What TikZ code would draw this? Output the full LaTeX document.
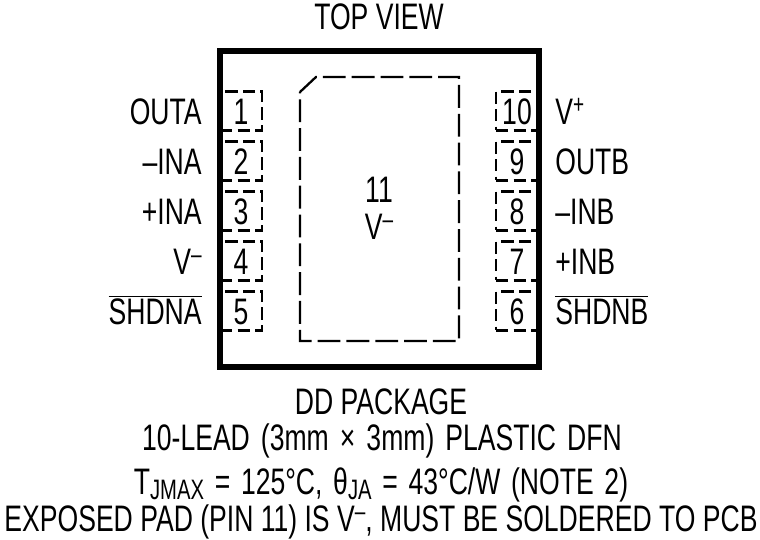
\documentclass[tikz,border=0pt]{standalone}
\usepackage{fontspec}
\setmainfont[FakeStretch=0.72]{Liberation Sans}
\newcommand{\subtxt}[1]{\raisebox{-2.8pt}{\fontsize{16}{16}\selectfont #1}}
\newcommand{\suptxt}[1]{\raisebox{6.5pt}{\fontsize{15}{15}\selectfont #1}}
\tikzset{
	lbl/.style={inner sep=0pt,font=\fontsize{21}{24}\selectfont},
	lblr/.style={lbl,anchor=base east},
	lbll/.style={lbl,anchor=base west},
	lblc/.style={lbl,anchor=base},
	pinbox/.style={draw,line width=1.3pt,dash pattern=on 7pt off 3pt,minimum width=0.84cm,minimum height=0.78cm,inner sep=0pt},
	pintxt/.style={lbl,anchor=base}
}
\begin{document}
\begin{tikzpicture}[x=0.02cm,y=0.02cm]
	\useasboundingbox (0,0) rectangle (760,540);
	\draw (379,510) node[lblc] (top) {TOP VIEW};

	\draw (241,429) node[pinbox] (pina) {};
	\draw (241,379) node[pinbox] (pinb) {};
	\draw (241,329) node[pinbox] (pinc) {};
	\draw (241,279) node[pinbox] (pind) {};
	\draw (241,229) node[pinbox] (pine) {};
	\draw (517,429) node[pinbox] (pinj) {};
	\draw (517,379) node[pinbox] (pini) {};
	\draw (517,329) node[pinbox] (pinh) {};
	\draw (517,279) node[pinbox] (ping) {};
	\draw (517,229) node[pinbox] (pinf) {};

	\draw (241,415.5) node[pintxt] {1};
	\draw (241,365.5) node[pintxt] {2};
	\draw (241,315.5) node[pintxt] {3};
	\draw (241,265.5) node[pintxt] {4};
	\draw (241,215.5) node[pintxt] {5};
	\draw (517,415.5) node[pintxt] {10};
	\draw (517,365.5) node[pintxt] {9};
	\draw (517,315.5) node[pintxt] {8};
	\draw (517,265.5) node[pintxt] {7};
	\draw (517,215.5) node[pintxt] {6};

	\draw[line width=3.7pt] (220,173) rectangle (539,489);
	\draw[line width=1.3pt,dash pattern=on 13pt off 3.4pt] (300,448) -- (316,463) -- (459,463) -- (459,199) -- (300,199) -- cycle;

	\draw (379,337) node[lblc] (pad) {11};
	\draw (379,300) node[lblc] (padv) {V\suptxt{--}};

	\draw (202,415.5) node[lblr] (outa) {OUTA};
	\draw (202,365.5) node[lblr] (ina) {--INA};
	\draw (202,315.5) node[lblr] (inap) {+INA};
	\draw (202,265.5) node[lblr] (vm) {V\suptxt{--}};
	\draw (202,215.5) node[lblr] (shdna) {$\overline{\mbox{SHDNA}}$};
	\draw (555,415.5) node[lbll] (vp) {V\suptxt{+}};
	\draw (555,365.5) node[lbll] (outb) {OUTB};
	\draw (555,315.5) node[lbll] (inb) {--INB};
	\draw (555,265.5) node[lbll] (inbp) {+INB};
	\draw (555,215.5) node[lbll] (shdnb) {$\overline{\mbox{SHDNB}}$};

	\draw (381,125) node[lblc] (pkg) {DD PACKAGE};
	\draw (382,89) node[lblc] (lead) {\spaceskip=6.3pt\relax 10-LEAD (3mm × 3mm) PLASTIC DFN};
	\draw (381,45) node[lblc] (tj) {\spaceskip=6.1pt\relax T\subtxt{JMAX} = 125°C, θ\subtxt{JA} = 43°C/W (NOTE 2)};
	\draw (381,8) node[lblc] (exp) {EXPOSED PAD (PIN 11) IS V\suptxt{--}, MUST BE SOLDERED TO PCB};
\end{tikzpicture}
\end{document}
